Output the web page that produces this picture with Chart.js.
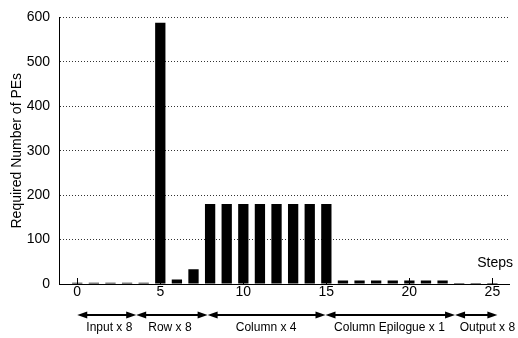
<!DOCTYPE html>
<html>
<head>
<meta charset="utf-8">
<script src="https://cdn.jsdelivr.net/npm/chart.js@4.4.1/dist/chart.umd.min.js"></script>
<style>
  html, body { margin: 0; padding: 0; background: #fff; }
  #wrap { width: 518px; height: 338px; }
</style>
</head>
<body>
<div id="wrap"><canvas id="myChart" width="518" height="338"></canvas></div>
<script>
const steps = [0, 1, 2, 3, 4, 5, 6, 7, 8, 9, 10, 11, 12, 13, 14, 15, 16, 17, 18, 19, 20, 21, 22, 23, 24, 25];
const peCounts = [3, 3, 3, 3, 3, 588, 10, 33, 180, 180, 180, 180, 180, 180, 180, 180, 8, 8, 8, 8, 8, 8, 8, 2, 2, 2];
const xTicks = [0, 5, 10, 15, 20, 25];
const phaseLabels = ['Input x 8', 'Row x 8', 'Column x 4', 'Column Epilogue x 1', 'Output x 8'];
const phaseBounds = [0, 3.55, 7.85, 14.95, 22.75, 25.3];
const phaseLabelAt = [1.93, 5.58, 11.37, 18.8, 24.7];

const FONT = '"Liberation Sans", Arial, Helvetica, sans-serif';
const ctx = document.getElementById('myChart');

function arrowHead(c, x, y, dir) {
  c.beginPath();
  c.moveTo(x, y);
  c.lineTo(x - dir * 10, y - 3.5);
  c.lineTo(x - dir * 10, y + 3.5);
  c.closePath();
  c.fill();
}

const extras = {
  id: 'extras',
  afterDraw(chart) {
    const c = chart.ctx;
    const xs = chart.scales.x;
    const area = chart.chartArea;
    c.save();
    c.strokeStyle = '#000';
    c.fillStyle = '#000';
    c.lineWidth = 1;
    // inward tick marks
    xTicks.forEach(t => {
      const px = Math.round(xs.getPixelForValue(t)) + 0.5;
      c.beginPath();
      c.moveTo(px, area.bottom);
      c.lineTo(px, area.bottom - 6);
      c.stroke();
    });
    // axis label at right
    c.font = '14px ' + FONT;
    c.textAlign = 'right';
    c.textBaseline = 'alphabetic';
    c.fillText('Steps', 513, 267);
    // phase arrows
    const ay = 315;
    c.lineWidth = 2;
    for (let i = 0; i < phaseLabels.length; i++) {
      const x1 = xs.getPixelForValue(phaseBounds[i]);
      const x2 = xs.getPixelForValue(phaseBounds[i + 1]);
      c.beginPath();
      c.moveTo(x1 + 4, ay);
      c.lineTo(x2 - 4, ay);
      c.stroke();
      arrowHead(c, x1, ay, -1);
      arrowHead(c, x2, ay, 1);
    }
    c.font = '12px ' + FONT;
    c.textAlign = 'center';
    phaseLabels.forEach((lab, i) => {
      c.fillText(lab, xs.getPixelForValue(phaseLabelAt[i]), 331);
    });
    c.restore();
  }
};

new Chart(ctx, {
  type: 'bar',
  data: {
    datasets: [{
      label: 'Required Number of PEs',
      data: steps.map((s, i) => ({x: s, y: peCounts[i]})),
      backgroundColor: '#000',
      borderWidth: 0,
      barPercentage: 0.62,
      categoryPercentage: 1
    }]
  },
  options: {
    responsive: false,
    animation: false,
    devicePixelRatio: 1,
    layout: { padding: { top: 15, right: 9, left: 0, bottom: 0 } },
    plugins: { legend: { display: false }, tooltip: { enabled: false } },
    scales: {
      x: {
        type: 'linear',
        offset: false,
        min: -1.1,
        max: 26,
        afterBuildTicks: (axis) => { axis.ticks = xTicks.map(v => ({value: v})); },
        afterFit: (axis) => { axis.height = 54; },
        grid: { display: false, drawTicks: false, offset: false },
        border: { display: true, color: '#000', width: 1 },
        ticks: { color: '#000', padding: 0, font: { family: FONT, size: 14 } }
      },
      y: {
        min: 0,
        max: 600,
        afterFit: (axis) => { axis.width = 59; },
        ticks: { stepSize: 100, color: '#000', padding: 9, font: { family: FONT, size: 14 } },
        grid: { color: '#333', lineWidth: 1, drawTicks: false },
        border: { display: true, color: '#000', width: 1, dash: [1, 2] },
        title: {
          display: true,
          text: 'Required Number of PEs',
          color: '#000',
          font: { family: FONT, size: 14 },
          padding: { top: 8.6, bottom: 0 }
        }
      }
    }
  },
  plugins: [extras]
});
</script>
</body>
</html>
